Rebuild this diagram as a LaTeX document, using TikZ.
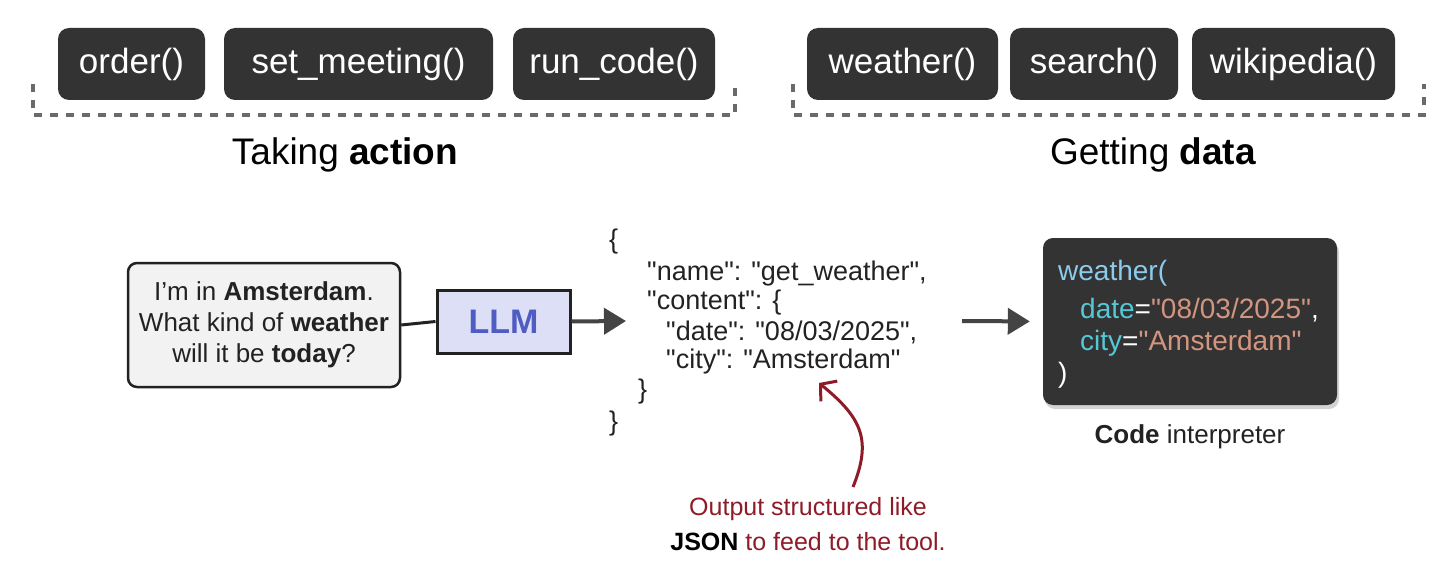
\documentclass[tikz,border=0pt]{standalone}
\usepackage{fontspec}
\setmainfont{Liberation Sans}[Ligatures=TeXOff]
\usetikzlibrary{arrows.meta,shadows,positioning}
\definecolor{boxdark}{HTML}{333333}
\definecolor{dashgray}{HTML}{6A6A6A}
\definecolor{arrowgray}{HTML}{444444}
\definecolor{llmfill}{HTML}{DCDFF5}
\definecolor{llmtext}{HTML}{4E5CC4}
\definecolor{qfill}{HTML}{F2F2F2}
\definecolor{txt}{HTML}{222222}
\definecolor{darkred}{HTML}{8E1C28}
\definecolor{codeblue}{HTML}{8CCBEA}
\definecolor{codecyan}{HTML}{55C8D6}
\definecolor{codesalmon}{HTML}{D49580}
\newcommand{\fs}[1]{\fontsize{#1}{#1}\selectfont}
\begin{document}
\begin{tikzpicture}[x=1pt,y=-1pt,
  toolbox/.style={fill=boxdark,rounded corners=11pt,minimum height=72pt,inner sep=0pt,
    text=white,font=\fs{35}},
  groupline/.style={draw=dashgray,line width=4pt,dash pattern=on 8pt off 8pt},
  grouplabel/.style={anchor=base,font=\fs{37},text=black},
  bigarrow/.style={draw=arrowgray,line width=4pt,-{Triangle[length=22pt,width=26pt]}},
  jsontext/.style={anchor=base west,font=\fs{27},text=txt,inner sep=0pt},
  codetext/.style={anchor=base west,font=\fs{28},inner sep=0pt},
  redtext/.style={anchor=base,font=\fs{25},text=darkred,inner sep=0pt}
]
\useasboundingbox (0,0) rectangle (1452,578);

% tool boxes
\node[toolbox,minimum width=147pt] (order) at (131.5,64) {order()};
\node[toolbox,minimum width=269pt] (meet) at (358.5,64) {set\_meeting()};
\node[toolbox,minimum width=202pt] (run) at (614,64) {run\_code()};
\node[toolbox,minimum width=191pt] (weath) at (902.5,64) {weather()};
\node[toolbox,minimum width=168pt] (search) at (1094,64) {search()};
\node[toolbox,minimum width=203pt] (wiki) at (1293.5,64) {wikipedia()};

% dashed group brackets
\coordinate (la) at (33,84); \coordinate (lb) at (33,115);
\coordinate (lc) at (735,115); \coordinate (ld) at (735,84);
\draw[groupline] (la) -- (lb) -- (lc) -- (ld);
\coordinate (ra) at (793,84); \coordinate (rb) at (793,115);
\coordinate (rc) at (1424,115); \coordinate (rd) at (1424,84);
\draw[groupline] (ra) -- (rb) -- (rc) -- (rd);

\node[grouplabel] (lab1) at (345,164) {Taking \textbf{action}};
\node[grouplabel] (lab2) at (1153,164) {Getting \textbf{data}};

% question
\node[draw=txt,line width=2.5pt,fill=qfill,rounded corners=9pt,minimum width=272pt,
  minimum height=124pt,align=center,font=\fs{26},text=txt,inner sep=0pt] (q) at (264,325)
  {I’m in \textbf{Amsterdam}.\\[5pt] What kind of \textbf{weather}\\[5pt] will it be \textbf{today}?};

% LLM
\node[draw=txt,line width=3pt,fill=llmfill,minimum width=133pt,minimum height=63pt,
  inner sep=0pt,font=\fs{34}\bfseries,text=llmtext] (llm) at (503.5,321.5) {LLM};
\draw[draw=txt,line width=3pt] (q.east) -- (llm.west);

% JSON
\coordinate (jin) at (626,321);
\draw[bigarrow] (llm.east) -- (jin);
\node[jsontext] (j1) at (609,248) {\{};
\node[jsontext] (j2) at (647,280) {"name": "get\_weather",};
\node[jsontext] (j3) at (647,309) {"content": \{};
\node[jsontext] (j4) at (666,340) {"date": "08/03/2025",};
\node[jsontext] (j5) at (666,368) {"city": "Amsterdam"};
\node[jsontext] (j6) at (638,398) {\}};
\node[jsontext] (j7) at (609,430) {\}};

% code interpreter
\node[fill=boxdark,rounded corners=10pt,minimum width=294pt,minimum height=167pt,inner sep=0pt,
  drop shadow={opacity=0.35,shadow xshift=2pt,shadow yshift=-4pt}] (code) at (1190,321.5) {};
\coordinate (jout) at (962,321);
\draw[bigarrow,shorten >=13pt] (jout) -- (code.west);
\node[codetext,text=codeblue] (c1) at (1058,280) {weather(};
\node[codetext] (c2) at (1080,318) {\textcolor{codecyan}{date}\textcolor{white}{=}\textcolor{codesalmon}{"08/03/2025"}\textcolor{white}{,}};
\node[codetext] (c3) at (1080,350) {\textcolor{codecyan}{city}\textcolor{white}{=}\textcolor{codesalmon}{"Amsterdam"}};
\node[codetext,text=white] (c4) at (1058,382) {)};
\node[anchor=base,font=\fs{26},text=txt,inner sep=0pt] (clab) at (1190,443) {\textbf{Code} interpreter};

% red annotation
\node[redtext] (r1) at (808,515) {Output structured like};
\node[redtext] (r2) at (808,550) {\textcolor{black}{\textbf{JSON}} to feed to the tool.};
\coordinate (rstart) at (853,487);
\coordinate (rend) at (819,383);
\draw[draw=darkred,line width=3pt,-{Straight Barb[length=11pt,width=26pt]}]
  (rstart) .. controls (872,440) and (862,418) .. (rend);
\end{tikzpicture}
\end{document}
